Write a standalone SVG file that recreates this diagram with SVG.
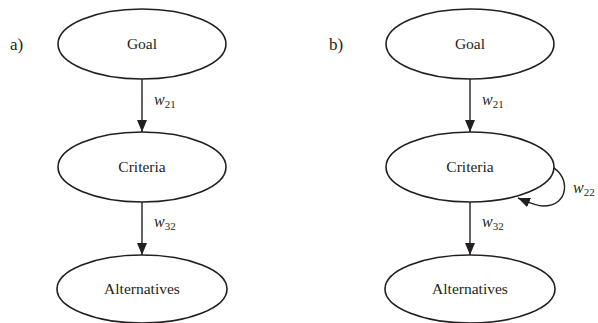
<svg xmlns="http://www.w3.org/2000/svg" width="598" height="323" viewBox="0 0 598 323">
<style>
.n{fill:#fff;stroke:#231f20;stroke-width:1.6}
.t{font-family:"Liberation Serif",serif;font-size:15.5px;fill:#231f20;text-anchor:middle}
.l{font-family:"Liberation Serif",serif;font-size:16px;fill:#231f20;font-style:italic}
.s{font-size:11px;font-style:normal}
.c{stroke:#231f20;stroke-width:1.4;fill:none}
.p{font-family:"Liberation Serif",serif;font-size:17px;fill:#231f20}
</style>
<defs>
<marker id="ah" markerWidth="12" markerHeight="10" viewBox="0 0 12 10" refX="12" refY="5" orient="auto" markerUnits="userSpaceOnUse">
<path d="M0,0 L12,5 L0,10 Z" fill="#231f20"/>
</marker>
</defs>
<text class="p" x="10" y="50">a)</text>
<text class="p" x="329" y="50">b)</text>
<g id="connectors">
<line class="c" x1="142" y1="79" x2="142" y2="132" marker-end="url(#ah)"/>
<line class="c" x1="142" y1="202" x2="142" y2="255" marker-end="url(#ah)"/>
<line class="c" x1="470" y1="79" x2="470" y2="132" marker-end="url(#ah)"/>
<line class="c" x1="470" y1="202" x2="470" y2="255" marker-end="url(#ah)"/>
<path class="c" d="M552,167 C570,176 570,206 543,206 C536,206 530,203 518,198" marker-end="url(#ah)"/>
<text class="l" x="154" y="105">w<tspan class="s" dy="3">21</tspan></text>
<text class="l" x="154" y="227">w<tspan class="s" dy="3">32</tspan></text>
<text class="l" x="482" y="105">w<tspan class="s" dy="3">21</tspan></text>
<text class="l" x="482" y="227">w<tspan class="s" dy="3">32</tspan></text>
<text class="l" x="573" y="193">w<tspan class="s" dy="3">22</tspan></text>
</g>
<g id="goal-a"><ellipse class="n" cx="142" cy="44" rx="84" ry="35"/><text class="t" x="142" y="49">Goal</text></g>
<g id="criteria-a"><ellipse class="n" cx="142" cy="167" rx="84" ry="35"/><text class="t" x="142" y="172">Criteria</text></g>
<g id="alternatives-a"><ellipse class="n" cx="142" cy="289" rx="85" ry="34"/><text class="t" x="142" y="294">Alternatives</text></g>
<g id="goal-b"><ellipse class="n" cx="470" cy="44" rx="84" ry="35"/><text class="t" x="470" y="49">Goal</text></g>
<g id="criteria-b"><ellipse class="n" cx="470" cy="167" rx="84" ry="35"/><text class="t" x="470" y="172">Criteria</text></g>
<g id="alternatives-b"><ellipse class="n" cx="470" cy="289" rx="85" ry="34"/><text class="t" x="470" y="294">Alternatives</text></g>
</svg>
